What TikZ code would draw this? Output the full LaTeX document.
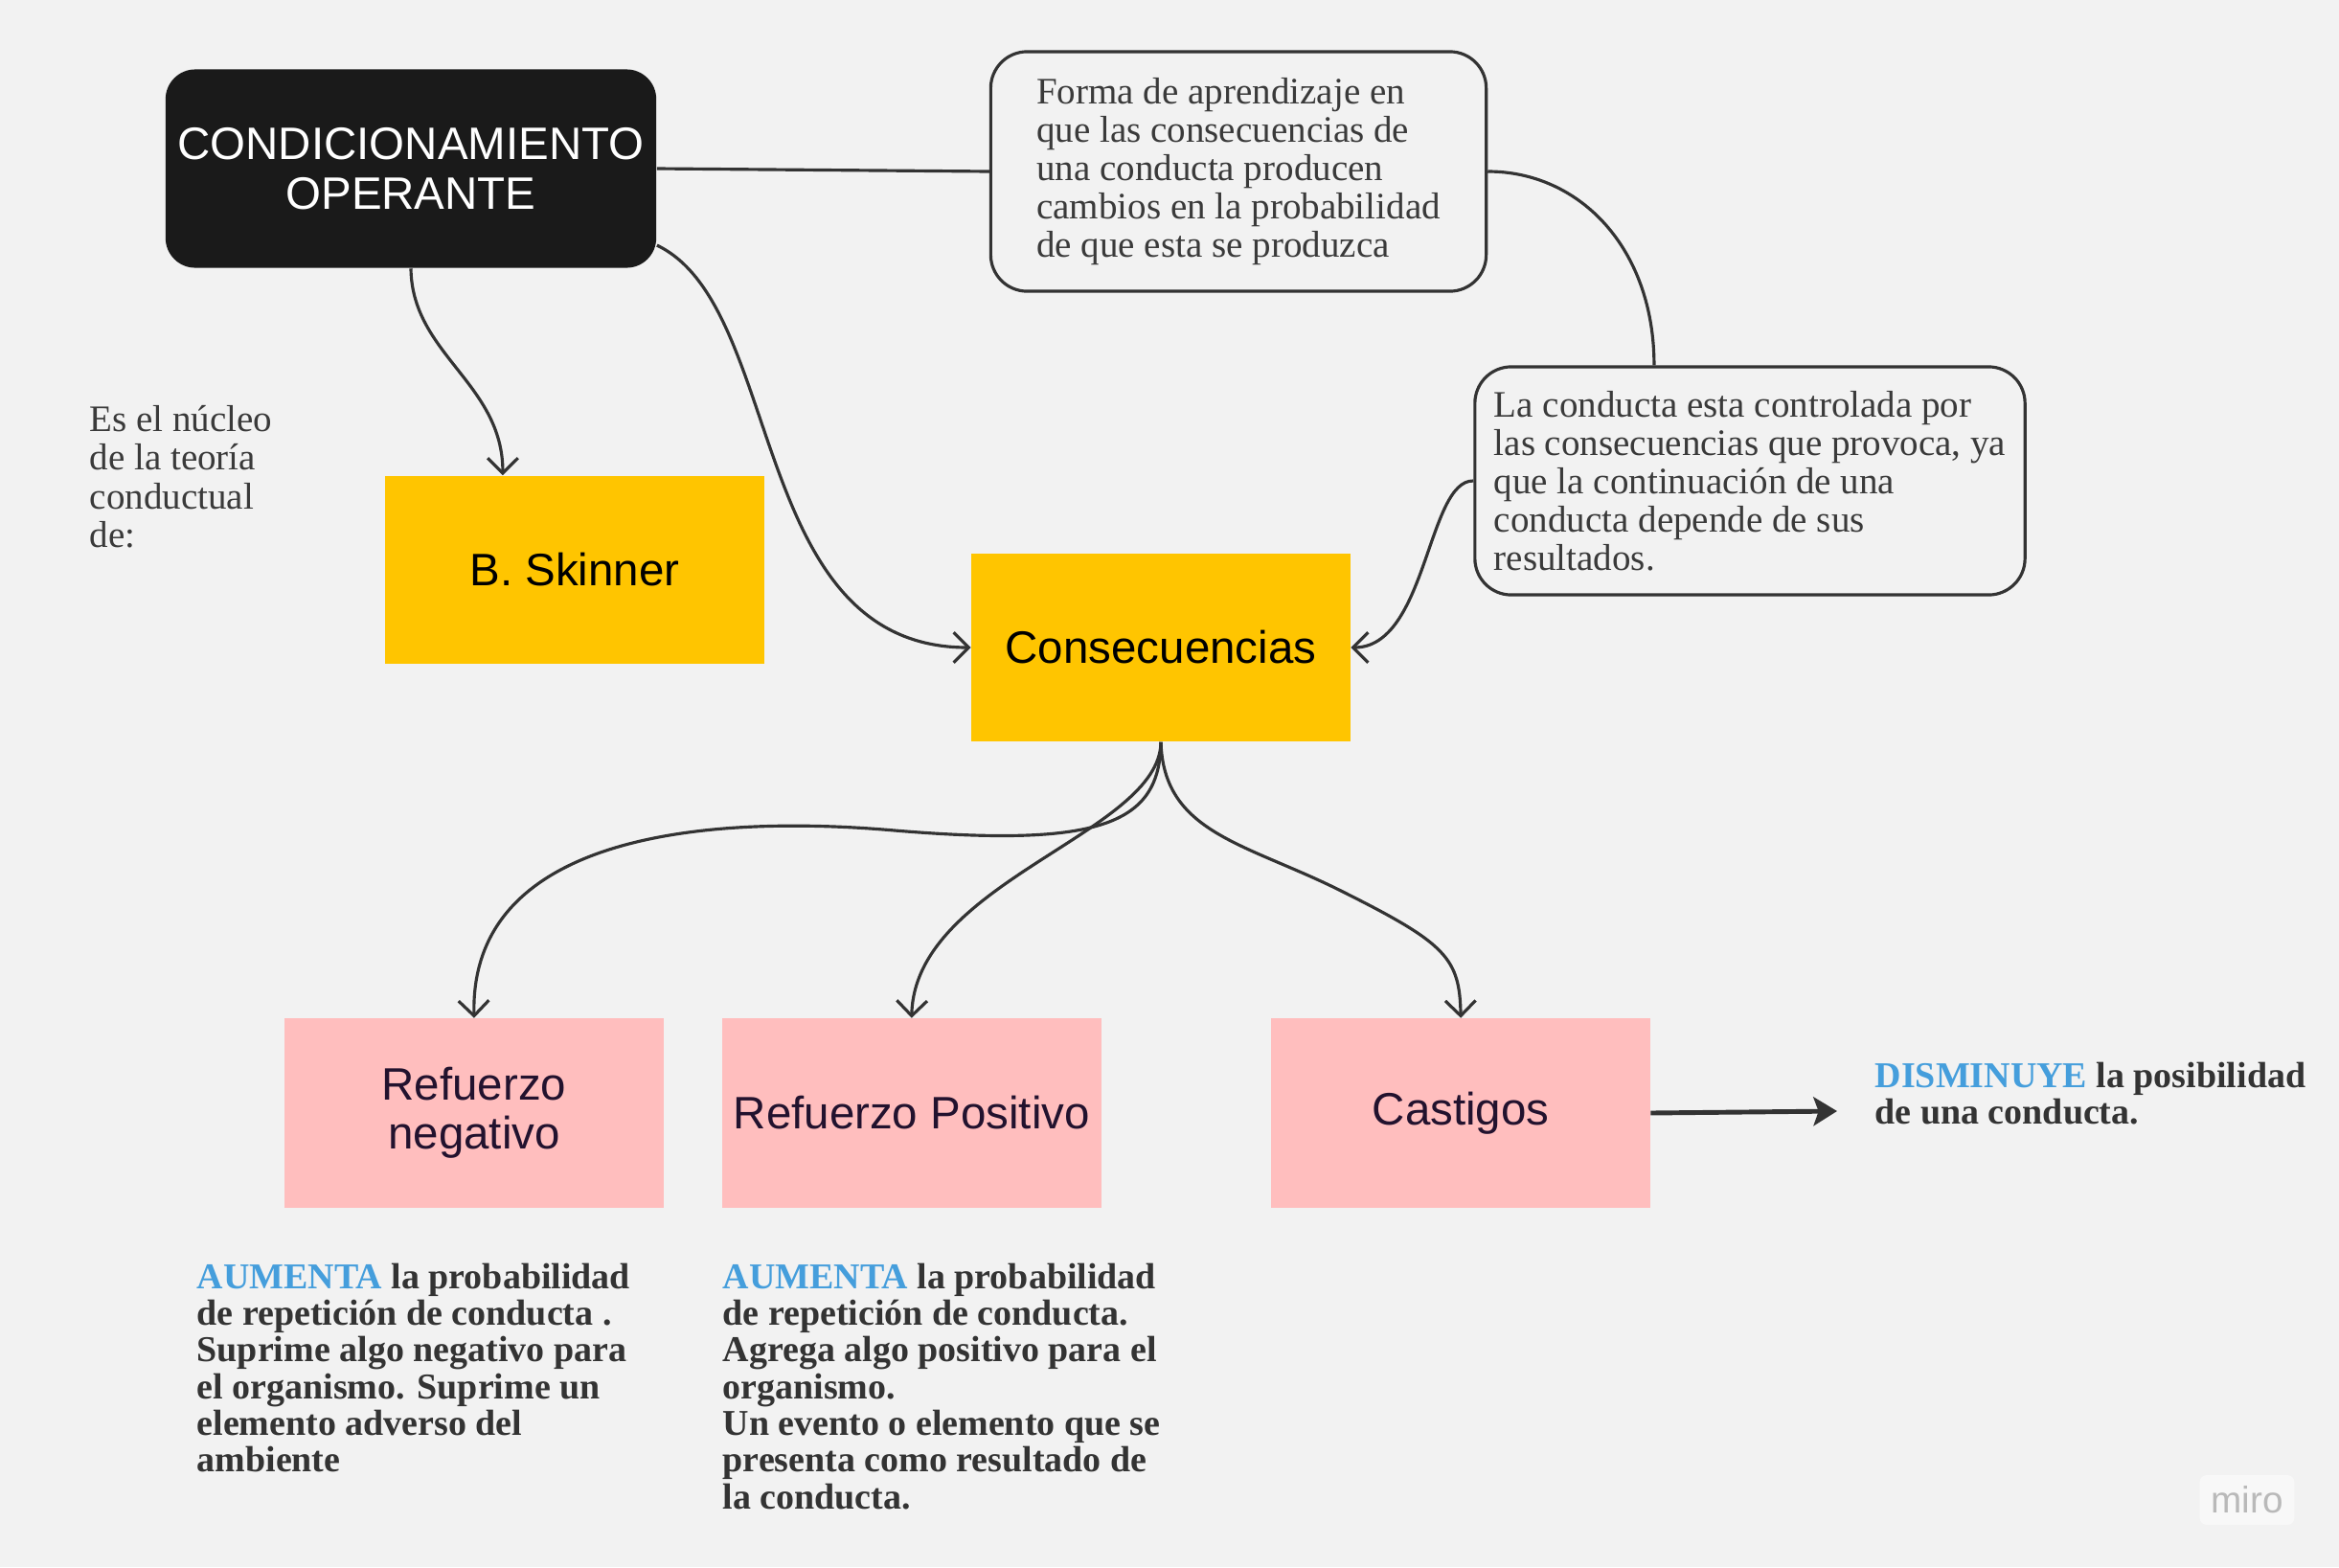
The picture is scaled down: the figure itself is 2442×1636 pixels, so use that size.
\documentclass[tikz,border=0pt]{standalone}
\usepackage{fontspec}
\setmainfont{Liberation Serif}
\setsansfont{Liberation Sans}
\usetikzlibrary{positioning, arrows.meta}
\definecolor{bgcol}{HTML}{F2F2F2}
\definecolor{boxblack}{HTML}{1A1A1A}
\definecolor{skyellow}{HTML}{FFC500}
\definecolor{pinkish}{HTML}{FFBEBE}
\definecolor{inkgray}{HTML}{333333}
\definecolor{textgray}{HTML}{3A3A3A}
\definecolor{keyblue}{HTML}{459EDC}
\definecolor{pinktext}{HTML}{22122E}
\tikzset{
x=0.01cm, y=-0.01cm, % one unit is one pixel of the sketch
>={Straight Barb[length=4.5pt,width=9pt]}, % open arrow heads
node distance=4.565cm, % gap between the pink boxes
title/.style={fill=boxblack, text=white, rounded corners=0.31cm, minimum width=5.12cm, minimum height=2.07cm, align=center, font=\sffamily\fontsize{13.5}{14.6}\selectfont},
note/.style={draw=inkgray, line width=0.9pt, fill=bgcol, rounded corners=0.38cm, align=left, text=textgray, font=\fontsize{11.1}{11.4}\selectfont},
yellowbox/.style={fill=skyellow, minimum width=3.95cm, minimum height=1.96cm, font=\sffamily\fontsize{13.5}{14.6}\selectfont},
pinkbox/.style={fill=pinkish, text=pinktext, minimum width=3.95cm, minimum height=1.97cm, align=center, font=\sffamily\fontsize{13.5}{14.6}\selectfont},
plaintext/.style={anchor=north west, inner sep=0pt, align=left, text=textgray, font=\fontsize{11.1}{11.4}\selectfont},
boldtext/.style={anchor=north west, inner sep=0pt, align=left, text=inkgray, font=\bfseries\fontsize{10.8}{10.9}\selectfont},
link/.style={draw=inkgray, line width=0.9pt, ->}, % the curved connectors
}
\begin{document}
\begin{tikzpicture}
    \fill[bgcol] (0,0) rectangle (2442,1636);
    \useasboundingbox (0,0) rectangle (2442,1636);

    \node[title] (cond) at (429,176) {CONDICIONAMIENTO\\OPERANTE};
    \node[note, minimum width=5.17cm, minimum height=2.5cm] (forma) at (1293,179) {Forma de aprendizaje en\\que las consecuencias de\\una conducta producen\\cambios en la probabilidad\\de que esta se produzca};
    \node[note, minimum width=5.74cm, minimum height=2.38cm] (ctrl) at (1827,502) {La conducta esta controlada por\\las consecuencias que provoca, ya\\que la continuación de una\\conducta depende de sus\\resultados.};
    \node[plaintext] (nucleo) at (93,423) {Es el núcleo\\de la teoría\\conductual\\de:};
    \node[yellowbox] (skinner) at (600,595) {B. Skinner};
    \node[yellowbox] (cons) at (1212,676) {Consecuencias};
    \node[pinkbox] (rneg) at (495,1162) {Refuerzo\\negativo};
    \node[pinkbox, right of=rneg] (rpos) {Refuerzo Positivo};
    \node[pinkbox, right of=rpos, node distance=5.73cm] (cast) {Castigos};
    \node[boldtext] (aneg) at (205,1318) {\textcolor{keyblue}{AUMENTA} la probabilidad\\de repetición de conducta .\\Suprime algo negativo para\\el organismo. Suprime un\\elemento adverso del\\ambiente};
    \node[boldtext] (apos) at (754,1318) {\textcolor{keyblue}{AUMENTA} la probabilidad\\de repetición de conducta.\\Agrega algo positivo para el\\organismo.\\Un evento o elemento que se\\presenta como resultado de\\la conducta.};
    \node[boldtext] (dism) at (1957,1108) {\textcolor{keyblue}{DISMINUYE} la posibilidad\\de una conducta.};
    \coordinate (dtip) at (1918,1160);
    \node[font=\sffamily\fontsize{11}{11}\selectfont, text=gray!55, fill=white!50!bgcol, rounded corners=2pt] (miro) at (2346,1566) {miro};

    \draw[link, -] (cond.east) -- (forma.west);
    \draw[link, -] (forma.east) .. controls (1650,179) and (1727,260) .. ([xshift=-1cm]ctrl.north);
    \draw[link] (cond.south) .. controls (430,370) and (525,400) .. ([xshift=-0.75cm]skinner.north);
    \draw[link] ([yshift=-0.8cm]cond.east) .. controls (820,320) and (780,676) .. (cons.west);
    \draw[link] (ctrl.west) .. controls (1490,501) and (1490,676) .. (cons.east);
    \draw[link] (cons.south) .. controls (1211,860) and (1150,885) .. (934,867) .. controls (740,850) and (490,870) .. (rneg.north);
    \draw[link] (cons.south) .. controls (1211,870) and (955,920) .. (rpos.north);
    \draw[link] (cons.south) .. controls (1215,870) and (1300,880) .. (1400,930) .. controls (1510,985) and (1524,1000) .. (cast.north);
    \draw[link, line width=1.4pt, -{Stealth[length=7pt,width=8.5pt,inset=1.5pt]}] (cast.east) -- (dtip);
  \end{tikzpicture}
\end{document}
